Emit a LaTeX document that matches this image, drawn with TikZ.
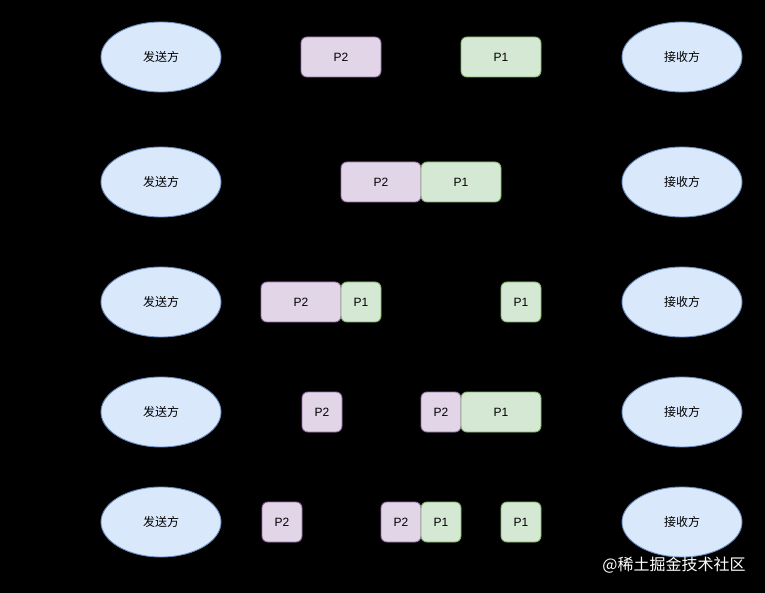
\documentclass[tikz,border=0pt]{standalone}
\usepackage{fontspec}
\setmainfont{Liberation Sans}
\newfontfamily\cjk{Noto Sans CJK SC}
\definecolor{elfill}{HTML}{DAE8FC}
\definecolor{elline}{HTML}{6C8EBF}
\definecolor{ptwofill}{HTML}{E1D5E7}
\definecolor{ptwoline}{HTML}{9673A6}
\definecolor{ponefill}{HTML}{D5E8D4}
\definecolor{poneline}{HTML}{82B366}
\tikzset{
  party/.style={ellipse, draw=elline, fill=elfill, line width=0.9pt, minimum width=120pt, minimum height=70pt, inner sep=0pt, font=\cjk\fontsize{12}{14}\selectfont},
  ptwo/.style={draw=ptwoline, fill=ptwofill, line width=0.9pt, rounded corners=6pt, minimum height=40pt, inner sep=0pt, font=\fontsize{12}{14}\selectfont},
  pone/.style={draw=poneline, fill=ponefill, line width=0.9pt, rounded corners=6pt, minimum height=40pt, inner sep=0pt, font=\fontsize{12}{14}\selectfont},
}
\usetikzlibrary{shapes.geometric}
\begin{document}
\begin{tikzpicture}[x=1pt,y=-1pt]
\fill[black] (0,0) rectangle (765,593);
\useasboundingbox (0,0) rectangle (765,593);
% parties
\foreach \r/\y in {1/57,2/182,3/302,4/412,5/522}{
  \node[party] (s\r) at (161,\y) {发送方};
  \node[party] (r\r) at (682,\y) {接收方};
}
% row 1
\node[ptwo, minimum width=80pt] (a2) at (341,57) {P2};
\node[pone, minimum width=80pt] (a1) at (501,57) {P1};
% row 2
\node[ptwo, minimum width=80pt] (b2) at (381,182) {P2};
\node[pone, minimum width=80pt] (b1) at (461,182) {P1};
% row 3
\node[ptwo, minimum width=80pt] (c2) at (301,302) {P2};
\node[pone, minimum width=40pt] (c1) at (361,302) {P1};
\node[pone, minimum width=40pt] (c1r) at (521,302) {P1};
% row 4
\node[ptwo, minimum width=40pt] (d2) at (322,412) {P2};
\node[ptwo, minimum width=40pt] (d2r) at (441,412) {P2};
\node[pone, minimum width=80pt] (d1r) at (501,412) {P1};
% row 5
\node[ptwo, minimum width=40pt] (e2) at (282,522) {P2};
\node[ptwo, minimum width=40pt] (e2m) at (401,522) {P2};
\node[pone, minimum width=40pt] (e1m) at (441,522) {P1};
\node[pone, minimum width=40pt] (e1r) at (521,522) {P1};
% watermark
\node[text=white, font=\cjk\fontsize{16}{18}\selectfont, anchor=center] (wm) at (674,565) {@稀土掘金技术社区};
\end{tikzpicture}
\end{document}
